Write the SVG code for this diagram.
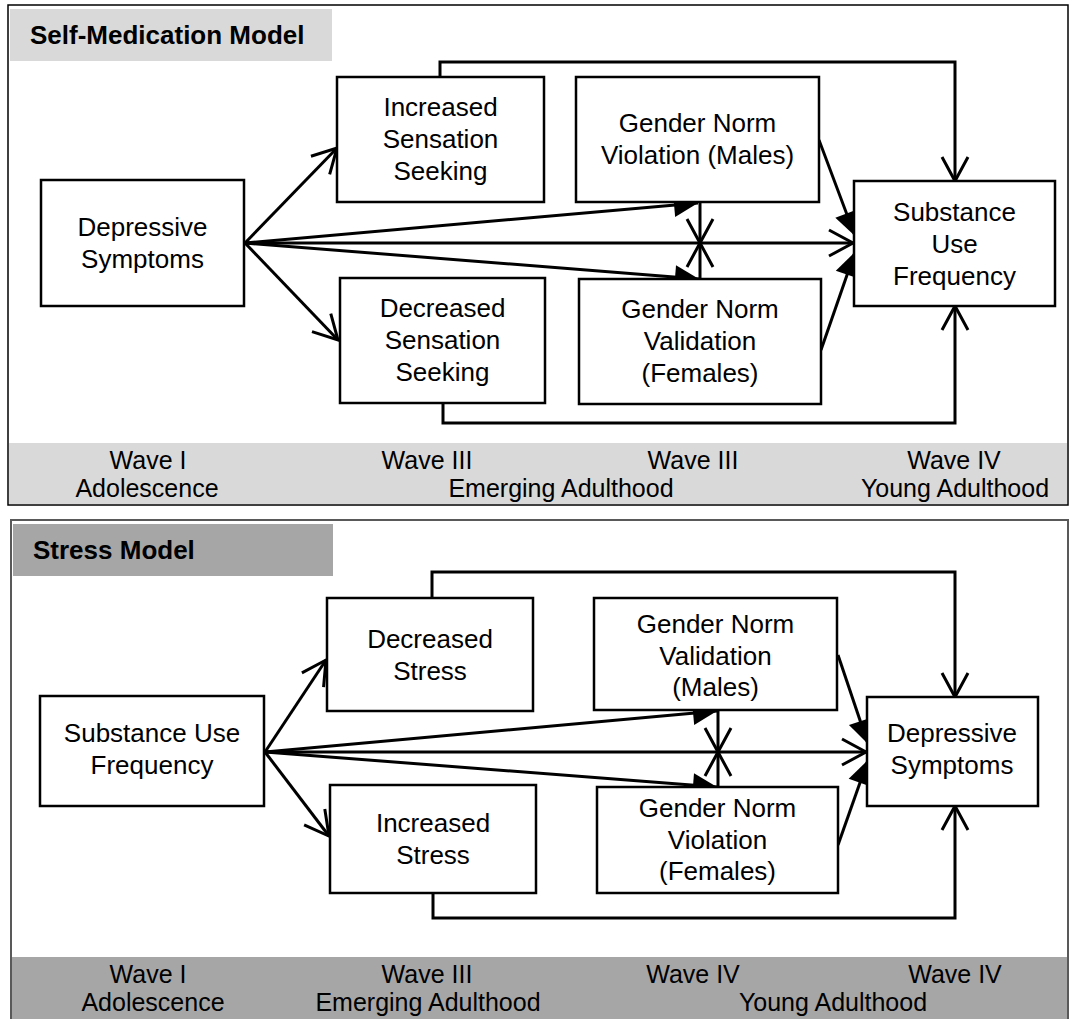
<svg xmlns="http://www.w3.org/2000/svg" width="1070" height="1019" viewBox="0 0 1070 1019">
<style>
text{font-family:"Liberation Sans",Arial,sans-serif;fill:#000}
.n{font-size:26px;text-anchor:middle}
.w{font-size:25px;text-anchor:middle}
.t{font-size:26px;font-weight:bold}
.box{fill:#fff;stroke:#000;stroke-width:2.5}
.c{fill:none;stroke:#000;stroke-width:3}
.fa{marker-end:url(#fill)}
.oa{marker-end:url(#open)}
</style>
<defs>
<marker id="fill" markerUnits="userSpaceOnUse" markerWidth="26" markerHeight="26" refX="24" refY="12" orient="auto" overflow="visible">
<path d="M0,0 L24,12 L0,24 Z" fill="#000"/>
</marker>
<marker id="open" markerUnits="userSpaceOnUse" markerWidth="30" markerHeight="30" refX="25" refY="13" orient="auto" overflow="visible">
<path d="M1,0 L25,13 L1,26" fill="none" stroke="#000" stroke-width="3"/>
</marker>
</defs>
<rect width="1070" height="1019" fill="#fff"/>

<!-- Top panel -->
<g id="panel-top">
<rect x="8" y="5" width="1060" height="500" fill="none" stroke="#000" stroke-width="1.5"/>
<rect x="10" y="9" width="322" height="52" fill="#d9d9d9"/>
<text class="t" x="30" y="44">Self-Medication Model</text>
<rect x="9" y="443" width="1058" height="61" fill="#d9d9d9"/>
<text class="w" x="148" y="469">Wave I</text>
<text class="w" x="147" y="497">Adolescence</text>
<text class="w" x="427" y="469">Wave III</text>
<text class="w" x="693" y="469">Wave III</text>
<text class="w" x="561" y="497">Emerging Adulthood</text>
<text class="w" x="954" y="469">Wave IV</text>
<text class="w" x="955" y="497">Young Adulthood</text>
</g>

<!-- Bottom panel -->
<g id="panel-bottom">
<path d="M11,1019 V520 H1068 V1019" fill="none" stroke="#595959" stroke-width="2"/>
<rect x="13" y="524" width="320" height="52" fill="#a6a6a6"/>
<text class="t" x="33" y="559">Stress Model</text>
<rect x="12" y="957" width="1055" height="62" fill="#a6a6a6"/>
<text class="w" x="148" y="983">Wave I</text>
<text class="w" x="153" y="1011">Adolescence</text>
<text class="w" x="427" y="983">Wave III</text>
<text class="w" x="428" y="1011">Emerging Adulthood</text>
<text class="w" x="693" y="983">Wave IV</text>
<text class="w" x="955" y="983">Wave IV</text>
<text class="w" x="833" y="1011">Young Adulthood</text>
</g>

<g id="connectors">
<!-- top panel -->
<path class="c oa" d="M440,77 V62 H955 V181"/>
<path class="c oa" d="M443,403 V423 H955 V306"/>
<line class="c oa" x1="245" y1="243" x2="337" y2="148"/>
<line class="c oa" x1="245" y1="243" x2="338" y2="340"/>
<line class="c fa" x1="245" y1="243" x2="698" y2="203"/>
<line class="c fa" x1="245" y1="243" x2="699" y2="279"/>
<line class="c oa" x1="245" y1="243" x2="853" y2="243"/>
<line class="c oa" x1="700" y1="202" x2="700" y2="243"/>
<line class="c oa" x1="700" y1="279" x2="700" y2="243"/>
<line class="c fa" x1="819" y1="140" x2="855" y2="236"/>
<line class="c fa" x1="821" y1="350" x2="855" y2="252"/>
<!-- bottom panel -->
<path class="c oa" d="M432,598 V572 H955 V697"/>
<path class="c oa" d="M433,893 V918 H955 V806"/>
<line class="c oa" x1="265" y1="752" x2="326" y2="660"/>
<line class="c oa" x1="265" y1="752" x2="329" y2="836"/>
<line class="c fa" x1="265" y1="752" x2="717" y2="711"/>
<line class="c fa" x1="265" y1="752" x2="717" y2="787"/>
<line class="c oa" x1="265" y1="752" x2="866" y2="752"/>
<line class="c oa" x1="718" y1="711" x2="718" y2="752"/>
<line class="c oa" x1="718" y1="787" x2="718" y2="752"/>
<line class="c fa" x1="838" y1="655" x2="868" y2="744"/>
<line class="c fa" x1="838" y1="845" x2="868" y2="760"/>
</g>

<!-- Top panel nodes -->
<g id="t-depressive">
<rect class="box" x="41" y="180" width="203" height="126"/>
<text class="n" x="142.5" y="236">Depressive</text>
<text class="n" x="142.5" y="268">Symptoms</text>
</g>
<g id="t-increased">
<rect class="box" x="337" y="77" width="207" height="125"/>
<text class="n" x="440.5" y="116">Increased</text>
<text class="n" x="440.5" y="148">Sensation</text>
<text class="n" x="440.5" y="180">Seeking</text>
</g>
<g id="t-decreased">
<rect class="box" x="340" y="278" width="205" height="125"/>
<text class="n" x="442.5" y="317">Decreased</text>
<text class="n" x="442.5" y="349">Sensation</text>
<text class="n" x="442.5" y="381">Seeking</text>
</g>
<g id="t-males">
<rect class="box" x="576" y="77" width="243" height="125"/>
<text class="n" x="697.5" y="132">Gender Norm</text>
<text class="n" x="697.5" y="164">Violation (Males)</text>
</g>
<g id="t-females">
<rect class="box" x="579" y="279" width="242" height="125"/>
<text class="n" x="700" y="318">Gender Norm</text>
<text class="n" x="700" y="350">Validation</text>
<text class="n" x="700" y="382">(Females)</text>
</g>
<g id="t-substance">
<rect class="box" x="854" y="181" width="201" height="125"/>
<text class="n" x="954.5" y="221">Substance</text>
<text class="n" x="954.5" y="253">Use</text>
<text class="n" x="954.5" y="285">Frequency</text>
</g>

<!-- Bottom panel nodes -->
<g id="b-substance">
<rect class="box" x="40" y="696" width="224" height="110"/>
<text class="n" x="152" y="742">Substance Use</text>
<text class="n" x="152" y="774">Frequency</text>
</g>
<g id="b-decreased">
<rect class="box" x="327" y="598" width="206" height="113"/>
<text class="n" x="430" y="648">Decreased</text>
<text class="n" x="430" y="680">Stress</text>
</g>
<g id="b-increased">
<rect class="box" x="330" y="785" width="206" height="108"/>
<text class="n" x="433" y="832">Increased</text>
<text class="n" x="433" y="864">Stress</text>
</g>
<g id="b-males">
<rect class="box" x="594" y="598" width="243" height="112"/>
<text class="n" x="715.5" y="633">Gender Norm</text>
<text class="n" x="715.5" y="665">Validation</text>
<text class="n" x="715.5" y="696">(Males)</text>
</g>
<g id="b-females">
<rect class="box" x="597" y="787" width="241" height="106"/>
<text class="n" x="717.5" y="817">Gender Norm</text>
<text class="n" x="717.5" y="849">Violation</text>
<text class="n" x="717.5" y="880">(Females)</text>
</g>
<g id="b-depressive">
<rect class="box" x="867" y="697" width="171" height="109"/>
<text class="n" x="952" y="742">Depressive</text>
<text class="n" x="952" y="774">Symptoms</text>
</g>
</svg>
